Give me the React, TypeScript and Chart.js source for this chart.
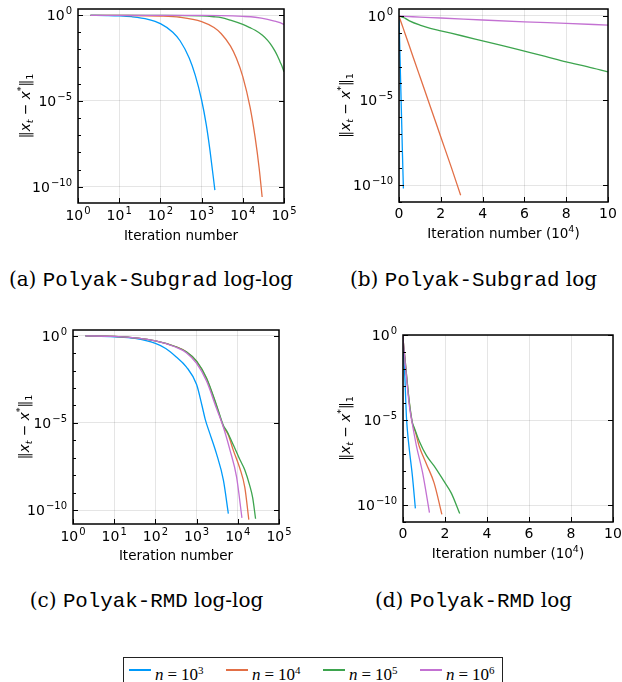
import React, { useEffect, useRef } from 'react';
import { Chart, registerables } from 'chart.js';

Chart.register(...registerables);

// ---------- data: Polyak-Subgrad (iteration, ||x_t - x*||_1) ----------
const sgIterN3 = [2, 5, 10, 20, 50, 100, 200, 300, 500, 700, 1000, 1300, 1600, 2100];
const sgErrN3 = [0.955, 0.933, 0.891, 0.794, 0.562, 0.316, 0.1, 0.0316, 3.16e-3, 3.16e-4, 1.12e-5, 3.98e-7, 1.26e-8, 6.3e-11];

const sgIterN4 = [2, 10, 100, 300, 1000, 2000, 3000, 5000, 7000, 10000, 15000, 20000, 25000, 29500];
const sgErrN4 = [0.955, 0.945, 0.877, 0.741, 0.417, 0.186, 0.0813, 0.0158, 3.02e-3, 2.57e-4, 4.27e-6, 6.9e-8, 1.15e-9, 2.5e-11];

const sgIterN5 = [2, 100, 1000, 2000, 3000, 5000, 10000, 15000, 20000, 30000, 40000, 50000, 60000, 70000, 80000, 90000, 100000];
const sgErrN5 = [0.955, 0.945, 0.891, 0.794, 0.708, 0.501, 0.282, 0.182, 0.129, 0.0661, 0.0331, 0.0166, 8.13e-3, 3.98e-3, 1.91e-3, 1.0e-3, 4.9e-4];

const sgIterN6 = [2, 1000, 3000, 10000, 20000, 40000, 60000, 80000, 100000];
const sgErrN6 = [0.955, 0.944, 0.923, 0.832, 0.741, 0.562, 0.437, 0.355, 0.282];

// ---------- data: Polyak-RMD ----------
const rmdIterN3 = [2, 10, 32, 100, 178, 316, 562, 1000, 1350, 1620, 2090, 3020, 4470, 5890];
const rmdErrN3 = [0.98, 0.87, 0.708, 0.363, 0.186, 0.063, 0.0166, 1.6e-3, 1.0e-4, 1.6e-5, 2.5e-6, 1.78e-7, 5.2e-9, 6.3e-11];

const rmdIterN4 = [2, 10, 100, 316, 562, 1000, 1740, 3020, 4470, 5890, 7760, 11200, 14800, 18500];
const rmdErrN4 = [0.98, 0.912, 0.513, 0.234, 0.12, 0.0339, 3.55e-3, 1.0e-4, 6.31e-6, 2.0e-6, 2.75e-7, 2.51e-8, 2.0e-9, 2.82e-11];

const rmdIterN5 = [2, 10, 100, 316, 562, 1000, 1740, 3020, 4470, 5370, 7760, 11200, 14800, 19500, 23000, 27000];
const rmdErrN5 = [0.98, 0.912, 0.513, 0.234, 0.12, 0.0355, 3.8e-3, 1.12e-4, 7.08e-6, 3.55e-6, 5.62e-7, 8.0e-8, 2.0e-8, 2.51e-9, 5.0e-10, 3.16e-11];

const rmdIterN6 = [2, 10, 100, 316, 562, 1000, 1740, 3020, 4470, 6460, 9330, 12600];
const rmdErrN6 = [0.98, 0.912, 0.501, 0.219, 0.107, 0.0257, 2.51e-3, 7.08e-5, 5.62e-6, 2.75e-7, 7.94e-9, 3.55e-11];

// ---------- labels / ticks ----------
const nExponents = ['3', '4', '5', '6'];
const seriesColors = ['#009AFA', '#E26F46', '#3DA44E', '#C371D2'];
const logXTicks = [1, 10, 100, 1000, 10000, 100000];
const linXTicks = [0, 2, 4, 6, 8, 10];
const yTicks = [1e-10, 1e-5, 1];
const xTitleMain = 'Iteration number';
const xTitleUnitBase = ' (10';
const xTitleUnitExp = '4';
const captionLabels = ['(a)', '(b)', '(c)', '(d)'];
const captionMethods = ['Polyak-Subgrad', 'Polyak-Subgrad', 'Polyak-RMD', 'Polyak-RMD'];
const captionScales = ['log-log', 'log', 'log-log', 'log'];

const FONT = 'DejaVu Sans';
const BASE = 14;
const SMALL = 10;

const expText = (v: number) => {
  const e = Math.round(Math.log10(v));
  return e < 0 ? '−' + String(-e) : String(e);
};

function drawPow(ctx: CanvasRenderingContext2D, v: number, x: number, baseline: number, align: 'right' | 'center') {
  const ex = expText(v);
  ctx.font = `${BASE}px ${FONT}`;
  const wb = ctx.measureText('10').width;
  ctx.font = `${SMALL}px ${FONT}`;
  const we = ctx.measureText(ex).width;
  const total = wb + 1 + we;
  const x0 = align === 'right' ? x - total : x - total / 2;
  ctx.textAlign = 'left';
  ctx.textBaseline = 'alphabetic';
  ctx.font = `${BASE}px ${FONT}`;
  ctx.fillText('10', x0, baseline);
  ctx.font = `${SMALL}px ${FONT}`;
  ctx.fillText(ex, x0 + wb + 1, baseline - 6);
}

type Seg = { t: string; size: number; dy: number; italic?: boolean };

function drawSegs(ctx: CanvasRenderingContext2D, segs: Seg[], cx: number, baseline: number) {
  let total = 0;
  const widths = segs.map((s) => {
    ctx.font = `${s.italic ? 'italic ' : ''}${s.size}px ${FONT}`;
    const w = ctx.measureText(s.t).width;
    total += w;
    return w;
  });
  let x = cx - total / 2;
  ctx.textAlign = 'left';
  ctx.textBaseline = 'alphabetic';
  segs.forEach((s, i) => {
    ctx.font = `${s.italic ? 'italic ' : ''}${s.size}px ${FONT}`;
    ctx.fillText(s.t, x, baseline + s.dy);
    x += widths[i];
  });
}

const yTitleSegs: Seg[] = [
  { t: '‖', size: 13.5, dy: 0 },
  { t: 'x', size: 14, dy: 0, italic: true },
  { t: 't', size: 9.5, dy: 3, italic: true },
  { t: ' − ', size: 13.5, dy: 0 },
  { t: 'x', size: 14, dy: 0, italic: true },
  { t: '*', size: 9.5, dy: -6 },
  { t: '‖', size: 13.5, dy: 0 },
  { t: '1', size: 9.5, dy: 3 },
];
const xTitleLogSegs: Seg[] = [{ t: xTitleMain, size: 13.5, dy: 0 }];
const xTitleLinSegs: Seg[] = [
  { t: xTitleMain + xTitleUnitBase, size: 13.5, dy: 0 },
  { t: xTitleUnitExp, size: 9.5, dy: -6 },
  { t: ')', size: 13.5, dy: 0 },
];

function makeDecorPlugin(logX: boolean, yTitleX: number, xTitleY: number) {
  return {
    id: 'decor',
    afterDraw(chart: any) {
      const { ctx, chartArea: a, scales } = chart;
      const xs = scales.x;
      const ys = scales.y;
      ctx.save();
      // inward tick marks
      ctx.strokeStyle = '#000';
      ctx.lineWidth = 1;
      ctx.beginPath();
      for (const t of ys.ticks) {
        const p = Math.round(ys.getPixelForValue(t.value)) + 0.5;
        ctx.moveTo(a.left, p); ctx.lineTo(a.left + 5, p);
        ctx.moveTo(a.right, p); ctx.lineTo(a.right - 5, p);
      }
      for (let e = -11; e <= 0; e++) {
        const v = Math.pow(10, e);
        if (v < ys.min || v > ys.max) continue;
        const p = Math.round(ys.getPixelForValue(v)) + 0.5;
        ctx.moveTo(a.left, p); ctx.lineTo(a.left + 3, p);
      }
      for (const t of xs.ticks) {
        const p = Math.round(xs.getPixelForValue(t.value)) + 0.5;
        ctx.moveTo(p, a.bottom); ctx.lineTo(p, a.bottom - 5);
      }
      ctx.stroke();
      ctx.lineWidth = 1.5;
      ctx.strokeRect(a.left, a.top, a.right - a.left, a.bottom - a.top);

      // tick labels
      ctx.fillStyle = '#000';
      for (const t of ys.ticks) {
        const p = ys.getPixelForValue(t.value);
        drawPow(ctx, t.value, a.left - 6, p + 5, 'right');
      }
      for (const t of xs.ticks) {
        const p = xs.getPixelForValue(t.value);
        if (logX) {
          drawPow(ctx, t.value, p, a.bottom + 17, 'center');
        } else {
          ctx.font = `${BASE}px ${FONT}`;
          ctx.textAlign = 'center';
          ctx.textBaseline = 'alphabetic';
          ctx.fillText(String(t.value), p, a.bottom + 16);
        }
      }

      // x title
      drawSegs(ctx, logX ? xTitleLogSegs : xTitleLinSegs, (a.left + a.right) / 2, xTitleY + 5);

      // y title
      ctx.translate(yTitleX, (a.top + a.bottom) / 2);
      ctx.rotate(-Math.PI / 2);
      drawSegs(ctx, yTitleSegs, 0, 5);
      ctx.restore();
    },
  };
}

type PanelCfg = {
  left: number; top: number; w: number; h: number;
  pl: number; pr: number; pt: number; pb: number;
  logX: boolean; yMin: number; yMax: number;
  iters: number[][]; errs: number[][];
  yTitleX: number; xTitleY: number;
};

function Panel({ cfg }: { cfg: PanelCfg }) {
  const ref = useRef<HTMLCanvasElement>(null);
  useEffect(() => {
    const datasets = cfg.iters.map((it, i) => ({
      data: it.map((t, j) => ({ x: cfg.logX ? t : t / 10000, y: cfg.errs[i][j] })),
      borderColor: seriesColors[i],
      backgroundColor: seriesColors[i],
      borderWidth: 1.3,
      pointRadius: 0,
      showLine: true,
      fill: false,
      cubicInterpolationMode: 'monotone' as const,
      order: 3 - i,
    }));
    const chart = new Chart(ref.current!, {
      type: 'scatter',
      data: { datasets },
      plugins: [makeDecorPlugin(cfg.logX, cfg.yTitleX, cfg.xTitleY)],
      options: {
        animation: false,
        responsive: false,
        maintainAspectRatio: false,
        layout: { padding: { top: cfg.pt, right: cfg.w - cfg.pr, left: 0, bottom: 0 } },
        plugins: { legend: { display: false }, tooltip: { enabled: false } },
        scales: {
          x: {
            type: cfg.logX ? 'logarithmic' : 'linear',
            min: cfg.logX ? 1 : 0,
            max: cfg.logX ? 100000 : 10,
            afterBuildTicks: (s: any) => { s.ticks = (cfg.logX ? logXTicks : linXTicks).map((v) => ({ value: v })); },
            afterFit: (s: any) => { s.height = cfg.h - cfg.pb; s.paddingLeft = 0; s.paddingRight = 0; },
            grid: { color: 'rgba(0,0,0,0.1)', lineWidth: 1, drawTicks: false },
            border: { display: false },
            ticks: { display: false, autoSkip: false },
            title: { display: false },
          },
          y: {
            type: 'logarithmic',
            min: cfg.yMin,
            max: cfg.yMax,
            afterBuildTicks: (s: any) => { s.ticks = yTicks.map((v) => ({ value: v })); },
            afterFit: (s: any) => { s.width = cfg.pl; s.paddingTop = 0; s.paddingBottom = 0; },
            grid: { color: 'rgba(0,0,0,0.1)', lineWidth: 1, drawTicks: false },
            border: { display: false },
            ticks: { display: false, autoSkip: false },
            title: { display: false },
          },
        },
      } as any,
    });
    return () => chart.destroy();
  }, []);
  return (
    <canvas
      ref={ref}
      width={cfg.w}
      height={cfg.h}
      style={{ position: 'absolute', left: cfg.left, top: cfg.top, width: cfg.w, height: cfg.h }}
    />
  );
}

const panels: PanelCfg[] = [
  { left: 0, top: 0, w: 311, h: 250, pl: 78, pr: 284, pt: 9, pb: 203, logX: true, yMin: Math.pow(10, -10.95), yMax: Math.pow(10, 0.35),
    iters: [sgIterN3, sgIterN4, sgIterN5, sgIterN6], errs: [sgErrN3, sgErrN4, sgErrN5, sgErrN6], yTitleX: 25, xTitleY: 235 },
  { left: 311, top: 0, w: 311, h: 250, pl: 88, pr: 297, pt: 9, pb: 202, logX: false, yMin: 1e-11, yMax: Math.pow(10, 0.4),
    iters: [sgIterN3, sgIterN4, sgIterN5, sgIterN6], errs: [sgErrN3, sgErrN4, sgErrN5, sgErrN6], yTitleX: 34, xTitleY: 233 },
  { left: 0, top: 320, w: 311, h: 250, pl: 73, pr: 279, pt: 10, pb: 204, logX: true, yMin: Math.pow(10, -10.8), yMax: Math.pow(10, 0.33),
    iters: [rmdIterN3, rmdIterN4, rmdIterN5, rmdIterN6], errs: [rmdErrN3, rmdErrN4, rmdErrN5, rmdErrN6], yTitleX: 24, xTitleY: 235 },
  { left: 311, top: 320, w: 311, h: 250, pl: 92, pr: 302, pt: 15, pb: 202, logX: false, yMin: 1e-11, yMax: 1,
    iters: [rmdIterN3, rmdIterN4, rmdIterN5, rmdIterN6], errs: [rmdErrN3, rmdErrN4, rmdErrN5, rmdErrN6], yTitleX: 34, xTitleY: 233 },
];

const captionPos = [
  { cx: 151, cy: 278.5 },
  { cx: 473.5, cy: 278.5 },
  { cx: 146.5, cy: 600 },
  { cx: 473.5, cy: 600 },
];

const legendOffsets = [5, 102, 199, 296];

export default function App() {
  return (
    <div style={{ position: 'absolute', left: 0, top: 0, width: 622, height: 682, background: '#fff', overflow: 'hidden' }}>
      {panels.map((p, i) => <Panel key={i} cfg={p} />)}
      {captionPos.map((c, i) => (
        <div
          key={i}
          style={{
            position: 'absolute', left: c.cx - 200, top: c.cy - 12, width: 400, height: 24, lineHeight: '24px',
            textAlign: 'center', whiteSpace: 'nowrap', fontFamily: 'DejaVu Serif', fontSize: 20, color: '#000',
          }}
        >
          {captionLabels[i]}{' '}
          <span style={{ fontFamily: 'Liberation Mono', fontSize: 20.8 }}>{captionMethods[i]}</span>{' '}
          {captionScales[i]}
        </div>
      ))}
      <div style={{ position: 'absolute', left: 123, top: 657, width: 378, height: 24, border: '1px solid #222', boxSizing: 'content-box' }}>
        {nExponents.map((e, i) => (
          <div key={i} style={{ position: 'absolute', left: legendOffsets[i], top: 0, height: 24, whiteSpace: 'nowrap' }}>
            <div style={{ position: 'absolute', left: 0, top: 11, width: 22, height: 1.5, background: seriesColors[i] }} />
            <div style={{ position: 'absolute', left: 26, top: 1, lineHeight: '22px', fontFamily: 'Liberation Serif', fontSize: 17, color: '#000' }}>
              <i>n</i><span style={{ margin: '0 4px' }}>=</span>10<sup style={{ fontSize: 11, verticalAlign: 6 }}>{e}</sup>
            </div>
          </div>
        ))}
      </div>
    </div>
  );
}
